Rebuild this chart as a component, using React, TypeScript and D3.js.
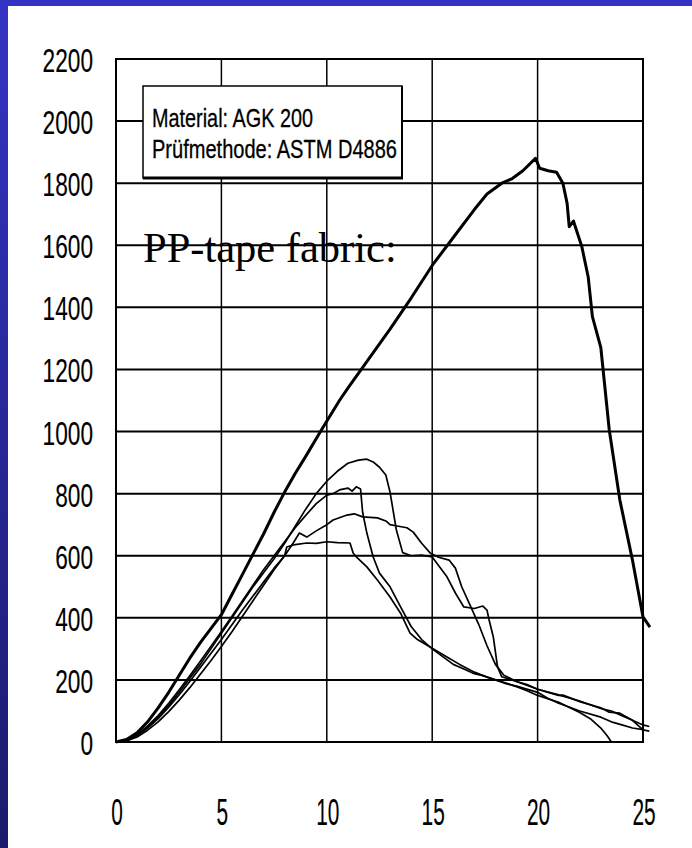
import React from "react";
import * as d3 from "d3";

const xTicks = [0, 5, 10, 15, 20, 25];
const yTicks = [0, 200, 400, 600, 800, 1000, 1200, 1400, 1600, 1800, 2000, 2200];
const legendLines = ["Material: AGK 200", "Prüfmethode: ASTM D4886"];
const annotation = "PP-tape fabric:";

// main specimen (thick curve): [elongation, force]
const mainCurve: [number, number][] = [
  [0, 0], [0.5, 8], [1, 30], [1.5, 65], [2, 110], [2.5, 160], [3, 215], [3.5, 270], [4, 320], [4.5, 365],
  [5, 410], [5.5, 475], [6, 540], [6.5, 605], [7, 670], [7.5, 740], [8, 805], [8.5, 865], [9, 920],
  [9.7, 1000], [10.6, 1100], [11, 1140], [12, 1235], [13, 1330], [14, 1430], [15, 1535], [16, 1625],
  [17, 1715], [17.6, 1765], [18.3, 1800], [18.8, 1815], [19.3, 1840], [19.9, 1880], [20.1, 1848],
  [20.5, 1840], [20.9, 1835], [21.2, 1800], [21.4, 1735], [21.5, 1660], [21.7, 1678], [22.1, 1595],
  [22.4, 1498], [22.6, 1370], [23, 1270], [23.4, 1005], [23.9, 780], [24.5, 586], [25, 403], [25.33, 370],
];

const specimen1: [number, number][] = [
  [0, 0], [0.5, 5], [1, 22], [1.5, 48], [2, 80], [2.5, 118], [3, 160], [3.5, 205], [4, 250], [4.5, 300],
  [5, 350], [5.5, 400], [6, 450], [6.5, 500], [7, 545], [7.5, 590], [8, 640], [8.5, 695], [9, 750],
  [9.5, 800], [10, 840], [10.5, 872], [11, 898], [11.5, 908], [11.9, 911], [12.2, 902], [12.5, 885],
  [12.8, 860], [13, 805], [13.3, 683], [13.6, 610], [14, 600], [14.5, 602], [15, 596], [15.7, 532],
  [16.1, 480], [16.5, 435], [17, 430], [17.4, 438], [17.6, 425], [17.7, 393], [17.9, 338], [18.1, 242],
  [18.3, 210], [19, 195], [20, 170], [21, 152], [22, 132], [22.5, 120], [23, 108], [23.5, 100],
  [24, 85], [24.5, 70], [25, 55], [25.3, 50],
];

const specimen2: [number, number][] = [
  [0, 0], [0.5, 6], [1, 24], [1.5, 52], [2, 85], [2.5, 125], [3, 168], [3.5, 213], [4, 260], [4.5, 308],
  [5, 356], [5.5, 405], [6, 455], [6.5, 505], [7, 555], [7.5, 600], [8, 645], [8.5, 690], [9, 730],
  [9.5, 768], [10, 795], [10.3, 800], [10.6, 812], [11, 818], [11.2, 808], [11.4, 822], [11.6, 815],
  [11.7, 740], [11.9, 673], [12.2, 596], [12.5, 544], [13, 500], [13.5, 435], [14, 372], [14.5, 330],
  [15, 300], [15.5, 275], [16, 250], [16.5, 235], [17, 220], [17.5, 212], [18, 200], [18.5, 190],
  [19, 178], [19.5, 165], [20, 150], [21, 128], [22, 95], [22.5, 75], [23, 45], [23.3, 20], [23.5, 0],
];

const specimen3: [number, number][] = [
  [0, 0], [0.5, 4], [1, 20], [1.5, 45], [2, 75], [2.5, 112], [3, 152], [3.5, 195], [4, 240], [4.5, 285],
  [5, 330], [5.5, 378], [6, 425], [6.5, 470], [7, 515], [7.5, 560], [8, 600], [8.4, 640], [8.7, 673],
  [9.05, 660], [9.5, 680], [10, 700], [10.3, 715], [10.96, 731], [11.3, 735], [11.7, 725], [12.4, 722],
  [12.8, 712], [13, 700], [13.4, 695], [13.8, 690], [14.1, 676], [14.5, 640], [14.9, 609], [15.3, 595],
  [15.8, 586], [16.1, 560], [16.4, 500], [16.8, 440], [17.2, 380], [17.6, 310], [18, 250], [18.4, 215],
  [19, 195], [19.5, 185], [20, 170], [20.5, 160], [21, 150], [21.2, 151], [22, 130], [23, 110],
  [23.4, 96], [23.9, 93], [24.5, 70], [25, 39], [25.3, 35],
];

const specimen4: [number, number][] = [
  [0, 0], [0.5, 3], [1, 16], [1.5, 38], [2, 65], [2.5, 98], [3, 135], [3.5, 175], [4, 218], [4.5, 262],
  [5, 308], [5.5, 355], [6, 405], [6.5, 455], [7, 505], [7.5, 555], [8, 600], [8.1, 628], [8.5, 636],
  [9.05, 641], [9.5, 640], [10, 645], [10.5, 642], [11.1, 641], [11.25, 609], [11.4, 596], [11.9, 564],
  [12.4, 522], [13, 467], [13.5, 415], [13.95, 351], [14.3, 330], [14.8, 310], [15.3, 290], [15.8, 270],
  [16.3, 250], [17, 225], [17.6, 209], [18, 200], [18.5, 188], [19, 180], [20, 160], [20.5, 140],
  [21, 125], [22, 100], [23, 80], [23.5, 65], [24, 55], [24.5, 45], [25, 40],
];

const thinCurves = [specimen1, specimen2, specimen3, specimen4];

export default function App() {
  const W = 692;
  const H = 848;
  const x = d3.scaleLinear().domain([0, 25]).range([116, 643]);
  const y = d3.scaleLinear().domain([0, 2200]).range([742, 59]);
  const line = d3
    .line<[number, number]>()
    .x((d) => x(d[0]))
    .y((d) => y(d[1]))
    .curve(d3.curveLinear);

  const yDigitW = 12.6;
  const xDigitW = 11.6;

  return (
    <svg
      width={W}
      height={H}
      style={{ position: "absolute", left: 0, top: 0, display: "block" }}
    >
      <defs>
        <linearGradient id="bg" x1="0" y1="0" x2="0" y2="1">
          <stop offset="0" stopColor="#3434c4" />
          <stop offset="1" stopColor="#1b1b6c" />
        </linearGradient>
      </defs>
      <rect x={0} y={0} width={W} height={H} fill="url(#bg)" />
      <rect x={8} y={6} width={W - 8} height={H - 6} fill="#ffffff" />

      {/* grid */}
      {yTicks.slice(1, -1).map((t) => (
        <line key={"h" + t} x1={x(0)} x2={x(25)} y1={y(t)} y2={y(t)} stroke="#000" strokeWidth={2} />
      ))}
      {xTicks.slice(1, -1).map((t) => (
        <line key={"v" + t} x1={x(t)} x2={x(t)} y1={y(0)} y2={y(2200)} stroke="#000" strokeWidth={1.5} />
      ))}
      <rect
        x={x(0)}
        y={y(2200)}
        width={x(25) - x(0)}
        height={y(0) - y(2200)}
        fill="none"
        stroke="#000"
        strokeWidth={2}
      />

      {/* y tick labels */}
      {yTicks.map((t) => {
        const s = String(t);
        const w = s.length * yDigitW;
        return (
          <text
            key={"yl" + t}
            x={93 - w}
            y={y(t) + 13}
            fontFamily="Liberation Sans, Arial, sans-serif"
            fontSize={34}
            textLength={w}
            lengthAdjust="spacingAndGlyphs"
            fill="#000"
            stroke="#000"
            strokeWidth={0.15}
          >
            {s}
          </text>
        );
      })}
      {/* x tick labels */}
      {xTicks.map((t) => {
        const s = String(t);
        const w = s.length * xDigitW;
        return (
          <text
            key={"xl" + t}
            x={x(t) + 1 - w / 2}
            y={825}
            fontFamily="Liberation Sans, Arial, sans-serif"
            fontSize={37}
            textLength={w}
            lengthAdjust="spacingAndGlyphs"
            fill="#000"
            stroke="#000"
            strokeWidth={0.15}
          >
            {s}
          </text>
        );
      })}

      {/* legend box */}
      <rect x={143} y={86} width={259} height={92} fill="#fff" stroke="#000" strokeWidth={1.5} />
      <line x1={143} x2={403} y1={178} y2={178} stroke="#000" strokeWidth={3} />
      <line x1={402} x2={402} y1={86} y2={179} stroke="#000" strokeWidth={2} />
      <text
        x={152}
        y={127}
        fontFamily="Liberation Sans, Arial, sans-serif"
        fontSize={26}
        textLength={161}
        lengthAdjust="spacingAndGlyphs"
        fill="#000"
        stroke="#000"
        strokeWidth={0.3}
      >
        {legendLines[0]}
      </text>
      <text
        x={152}
        y={158}
        fontFamily="Liberation Sans, Arial, sans-serif"
        fontSize={26}
        textLength={245}
        lengthAdjust="spacingAndGlyphs"
        fill="#000"
        stroke="#000"
        strokeWidth={0.3}
      >
        {legendLines[1]}
      </text>

      {/* curves */}
      {thinCurves.map((c, i) => (
        <path
          key={"c" + i}
          d={line(c) || ""}
          fill="none"
          stroke="#000"
          strokeWidth={1.7}
          strokeLinejoin="round"
        />
      ))}
      <path d={line(mainCurve) || ""} fill="none" stroke="#000" strokeWidth={3} strokeLinejoin="round" />

      {/* annotation */}
      <text
        x={143}
        y={262}
        fontFamily="Liberation Serif, Times New Roman, serif"
        fontSize={42.5}
        fill="#000"
      >
        {annotation}
      </text>
    </svg>
  );
}
